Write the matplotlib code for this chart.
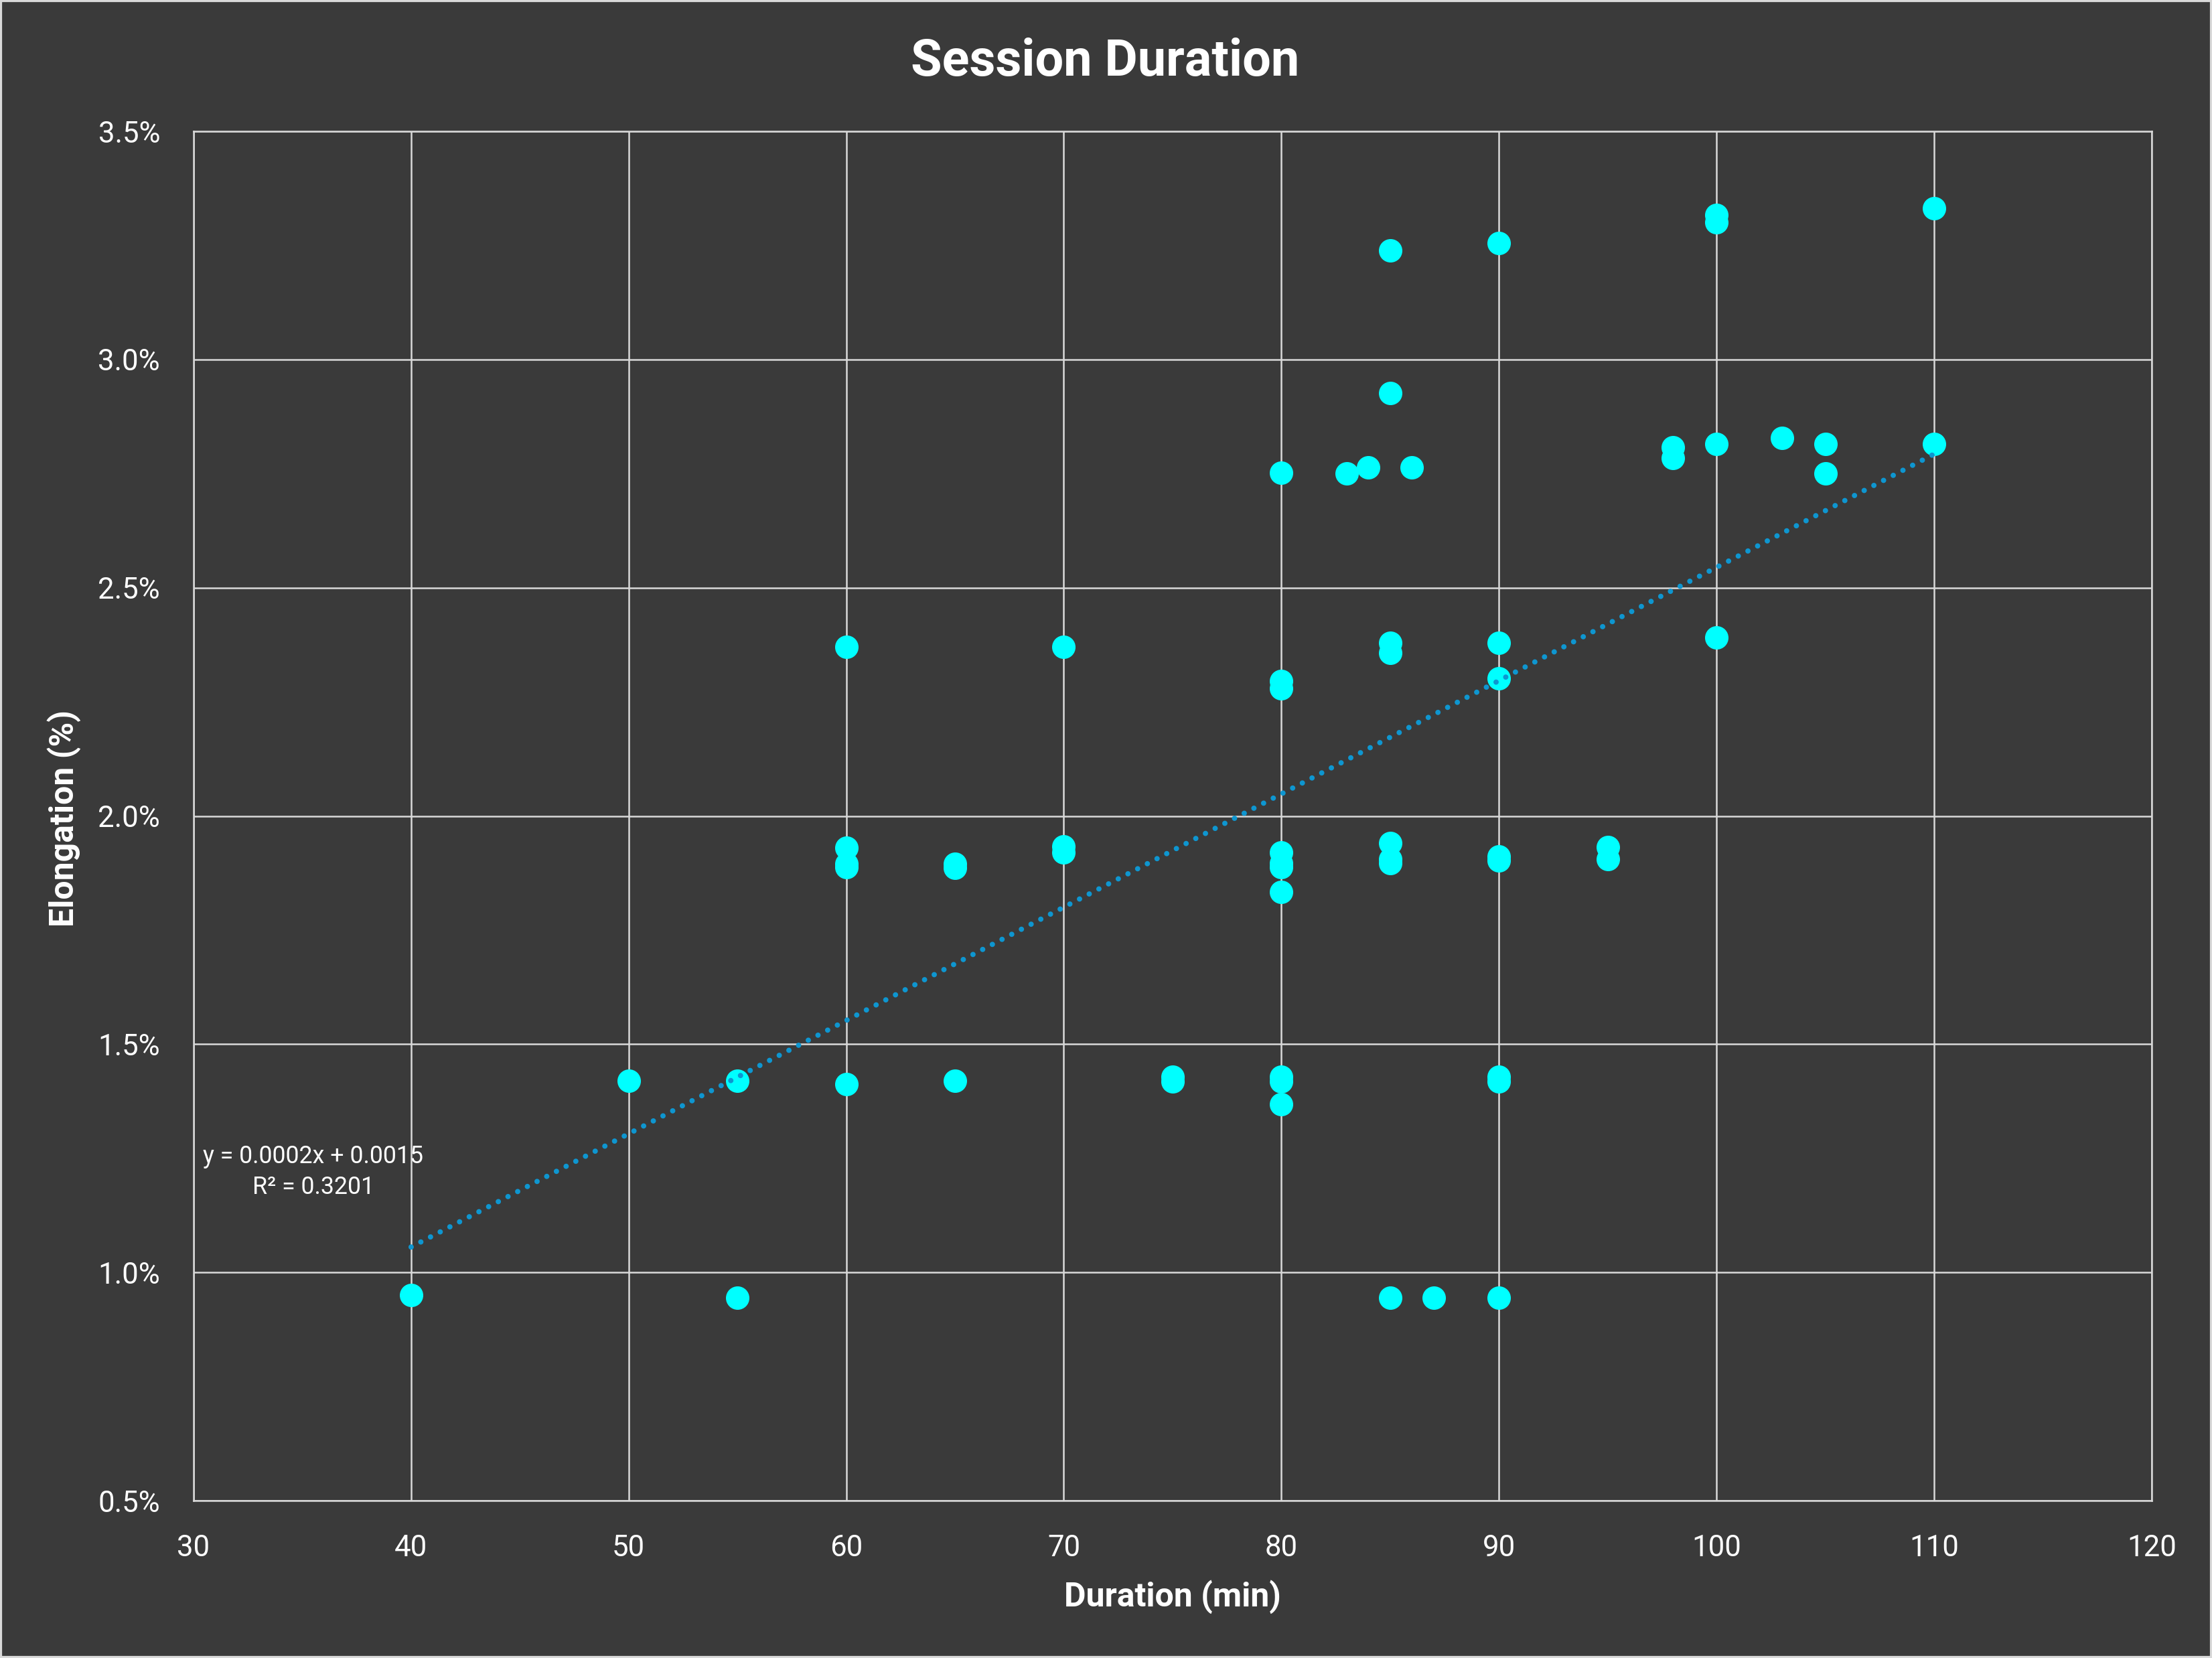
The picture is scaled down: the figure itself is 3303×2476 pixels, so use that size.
import numpy as np
import matplotlib
matplotlib.use("Agg")
import matplotlib.pyplot as plt
from matplotlib.ticker import PercentFormatter, MultipleLocator
from matplotlib.patches import Rectangle

plt.rcParams['font.family'] = ['Roboto', 'DejaVu Sans']

# ---- data (duration in minutes, elongation in percent) ----
duration = [40,
            50,
            55, 55,
            60, 60, 60, 60, 60,
            65, 65, 65,
            70, 70, 70,
            75, 75,
            80, 80, 80, 80, 80, 80, 80, 80, 80, 80,
            83,
            84,
            85, 85, 85, 85, 85, 85, 85, 85,
            86,
            87,
            90, 90, 90, 90, 90, 90, 90, 90,
            95, 95,
            98, 98,
            100, 100, 100, 100,
            103,
            105, 105,
            110, 110]
elongation_pct = [0.95,
                  1.42,
                  1.42, 0.945,
                  2.37, 1.93, 1.895, 1.888, 1.413,
                  1.895, 1.887, 1.42,
                  2.37, 1.934, 1.92,
                  1.428, 1.418,
                  2.752, 2.295, 2.28, 1.92, 1.897, 1.888, 1.834, 1.428, 1.418, 1.368,
                  2.751,
                  2.764,
                  3.239, 2.926, 2.38, 2.357, 1.94, 1.905, 1.897, 0.945,
                  2.764,
                  0.945,
                  3.255, 2.38, 2.302, 1.912, 1.903, 1.428, 1.418, 0.945,
                  1.932, 1.905,
                  2.807, 2.784,
                  3.317, 3.30, 2.815, 2.391,
                  2.828,
                  2.815, 2.751,
                  3.331, 2.815]

x_ticks = [30, 40, 50, 60, 70, 80, 90, 100, 110, 120]
title = "Session Duration"
x_label = "Duration (min)"
y_label = "Elongation (%)"
trend_label = "y = 0.0002x + 0.0015\nR\u00b2 = 0.3201"

x = np.array(duration, dtype=float)
y = np.array(elongation_pct) / 100.0

BG = "#3A3A3A"
GRID = "#D9D9D9"
TXT = "#FFFFFF"

fig = plt.figure(figsize=(3303 / 300, 2476 / 300), dpi=300, facecolor=BG)
ax = fig.add_axes([0.0875, 0.0949, 0.9727 - 0.0875, 0.9208 - 0.0949])
ax.set_facecolor(BG)

ax.set_xlim(30, 120)
ax.set_ylim(0.005, 0.035)
ax.set_xticks(x_ticks)
ax.yaxis.set_major_locator(MultipleLocator(0.005))
ax.yaxis.set_major_formatter(PercentFormatter(xmax=1, decimals=1))

ax.grid(True, color=GRID, linewidth=0.6, zorder=0)
ax.set_axisbelow(True)
for s in ax.spines.values():
    s.set_color(GRID)
    s.set_linewidth(0.6)

ax.tick_params(axis='both', length=0, colors=TXT, labelsize=10.5)
ax.tick_params(axis='y', pad=12)
ax.tick_params(axis='x', pad=12)

# scatter
ax.plot(x, y, linestyle='none', marker='o', markersize=7.4,
        markerfacecolor='#00FFFF', markeredgecolor='#00FFFF', zorder=3)

# linear trendline
coef = np.polyfit(x, y, 1)
xt = np.array([x.min(), x.max()])
ax.plot(xt, np.polyval(coef, xt), color='#0E96D0', linewidth=1.9,
        linestyle=(0, (0.01, 2.05)), dash_capstyle='round', zorder=4)

ax.text(35.5, 0.0122, trend_label, color=TXT, fontsize=8.6,
        ha='center', va='center', multialignment='center', linespacing=1.35)

fig.text(0.4995, 0.9625, title, color=TXT, fontsize=18.2, fontweight='bold',
         ha='center', va='center')
fig.text(0.530, 0.0368, x_label, color=TXT, fontsize=12, fontweight='bold',
         ha='center', va='center')
fig.text(0.0288, 0.5065, y_label, color=TXT, fontsize=12, fontweight='bold',
         ha='center', va='center', rotation=90)

fig.patches.append(Rectangle((0, 0), 1, 1, transform=fig.transFigure,
                             fill=False, edgecolor=GRID, linewidth=1.5))

fig.savefig("out.png", dpi=300, facecolor=BG)
